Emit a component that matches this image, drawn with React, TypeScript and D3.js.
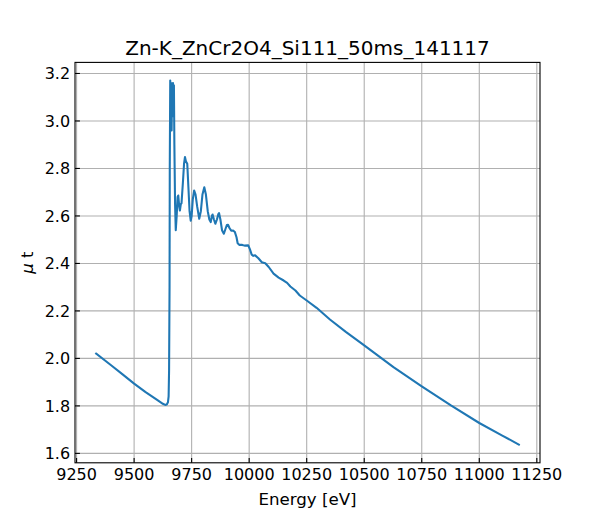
import * as d3 from "d3";

// energy grid (eV) and absorbance mu*t
const energy = [
  9335, 9400, 9450, 9500, 9550, 9600, 9625, 9635, 9642, 9647, 9650, 9652, 9654, 9655,
  9657, 9659, 9661, 9663, 9665, 9667, 9669, 9671, 9673, 9675, 9678, 9681, 9685, 9689,
  9692, 9696, 9699, 9703, 9706, 9712, 9717, 9721, 9725, 9731, 9736, 9741, 9746, 9750,
  9755, 9761, 9767, 9774, 9783, 9790, 9797, 9805, 9812, 9820, 9827, 9833, 9838, 9841,
  9847, 9853, 9860, 9866, 9869, 9875, 9882, 9890, 9897, 9903, 9908, 9915, 9922, 9930,
  9938, 9945, 9950, 9958, 9970, 9980, 9996, 10003, 10011, 10018, 10026, 10040, 10055,
  10070, 10085, 10106, 10128, 10150, 10165, 10179, 10201, 10220, 10250, 10293, 10351,
  10420, 10500, 10627, 10750, 10875, 11000, 11100, 11172,
];
const mu = [
  2.02, 1.971, 1.933, 1.894, 1.858, 1.825, 1.809, 1.804, 1.806, 1.815, 1.84, 1.95, 2.3, 2.8,
  3.17, 3.0, 3.16, 2.96, 3.15, 3.02, 3.16, 3.05, 3.15, 2.9, 2.65, 2.54, 2.6, 2.68,
  2.686, 2.64, 2.623, 2.65, 2.653, 2.74, 2.82, 2.848, 2.83, 2.82, 2.72, 2.62, 2.58, 2.6,
  2.67, 2.707, 2.69, 2.64, 2.588, 2.62, 2.69, 2.721, 2.69, 2.62, 2.585, 2.574, 2.6, 2.606,
  2.585, 2.567, 2.585, 2.608, 2.612, 2.585, 2.54, 2.525, 2.545, 2.562, 2.563, 2.548, 2.538, 2.539,
  2.532, 2.51, 2.485, 2.478, 2.478, 2.475, 2.476, 2.46, 2.437, 2.432, 2.434, 2.422, 2.405,
  2.401, 2.385, 2.357, 2.34, 2.328, 2.318, 2.303, 2.286, 2.265, 2.244, 2.213, 2.164,
  2.112, 2.055, 1.963, 1.882, 1.803, 1.728, 1.675, 1.637,
];
const xTicks = [9250, 9500, 9750, 10000, 10250, 10500, 10750, 11000, 11250];
const yTicks = [1.6, 1.8, 2.0, 2.2, 2.4, 2.6, 2.8, 3.0, 3.2];
const title = "Zn-K_ZnCr2O4_Si111_50ms_141117";

const width = 600;
const height = 520;
const margin = { left: 75, right: 60, top: 62.4, bottom: 57.2 };
const font = "'DejaVu Sans', sans-serif";

// matplotlib style 5% padding around the data
const padded = (v: number[]) => {
  const [lo, hi] = d3.extent(v) as [number, number];
  const m = (hi - lo) * 0.05;
  return [lo - m, hi + m];
};

export default function App() {
  const x = d3.scaleLinear()
    .domain(padded(energy))
    .range([margin.left, width - margin.right]);
  const y = d3.scaleLinear()
    .domain(padded(mu))
    .range([height - margin.bottom, margin.top]);

  const pts = energy.map((e, i) => [e, mu[i]] as [number, number]);
  const line = d3.line<[number, number]>()
    .x((d) => x(d[0]))
    .y((d) => y(d[1]));

  const x0 = margin.left;
  const x1 = width - margin.right;
  const y0 = height - margin.bottom;
  const y1 = margin.top;
  const tick = 4.9;

  return (
    <svg
      width={width}
      height={height}
      viewBox={`0 0 ${width} ${height}`}
      style={{ position: "absolute", left: 0, top: 0, background: "#fff" }}
      fontFamily={font}
    >
      {/* grid */}
      <g stroke="#b0b0b0" strokeWidth={1.1}>
        {xTicks.map((t) => (
          <line key={t} x1={x(t)} x2={x(t)} y1={y0} y2={y1} />
        ))}
        {yTicks.map((t) => (
          <line key={t} x1={x0} x2={x1} y1={y(t)} y2={y(t)} />
        ))}
      </g>

      <path d={line(pts) ?? ""} fill="none" stroke="#1f77b4" strokeWidth={2.08}
        strokeLinejoin="round" strokeLinecap="square" />

      {/* ticks pointing inward */}
      <g stroke="#000" strokeWidth={1.1}>
        {xTicks.map((t) => (
          <line key={t} x1={x(t)} x2={x(t)} y1={y0} y2={y0 - tick} />
        ))}
        {yTicks.map((t) => (
          <line key={t} x1={x0} x2={x0 + tick} y1={y(t)} y2={y(t)} />
        ))}
      </g>
      <rect x={x0} y={y1} width={x1 - x0} height={y0 - y1} fill="none" stroke="#000" strokeWidth={1.1} />

      <g fontSize={16} fill="#000">
        {xTicks.map((t) => (
          <text key={t} x={x(t)} y={y0 + 4.9} dy="0.76em" textAnchor="middle">{t}</text>
        ))}
        {yTicks.map((t) => (
          <text key={t} x={x0 - 4.9} y={y(t)} dy="0.36em" textAnchor="end">{t.toFixed(1)}</text>
        ))}
      </g>

      <text x={(x0 + x1) / 2} y={505} fontSize={16.67} textAnchor="middle">Energy [eV]</text>
      <text transform={`translate(33, ${(y0 + y1) / 2}) rotate(-90)`} fontSize={16.67} textAnchor="middle">
        <tspan fontStyle="italic">μ</tspan> t
      </text>
      <text x={(x0 + x1) / 2} y={54.5} fontSize={20} textAnchor="middle">{title}</text>
    </svg>
  );
}
